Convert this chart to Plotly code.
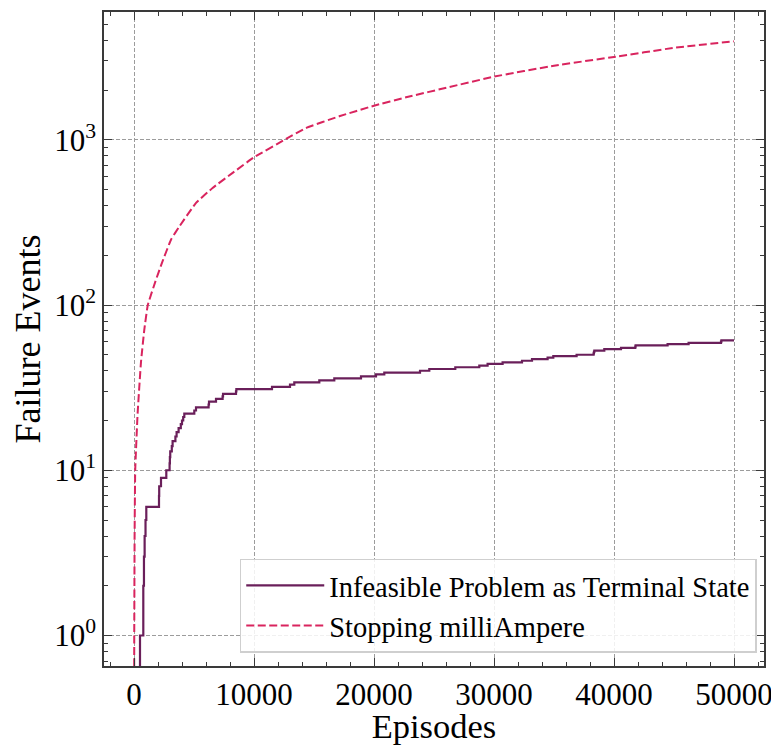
import plotly.graph_objects as go

# ---- data ----
infeasible_episodes = [0, 500, 775, 830, 886, 960, 1025, 2083, 2100, 2250, 2692, 2967, 2990,
                       3020, 3150, 3217, 3450, 3550, 3717, 3900, 4000, 4100, 4192, 5025, 5167,
                       6217, 6250, 6833, 7383, 7420, 8500, 8530, 11500, 13000, 13358, 15442,
                       16692, 18917, 20167, 20858, 23833, 24608, 26775, 28775, 29467, 30717,
                       32333, 33167, 34467, 34942, 36883, 38300, 38330, 38360, 39192, 40583,
                       41775, 41800, 44467, 46217, 48917, 48950, 50000]
infeasible_failures = [0, 1, 2, 3, 4, 5, 6, 7, 8, 9, 10, 11, 12,
                       13, 14, 15, 16, 17, 18, 19, 20, 21, 22, 23, 24,
                       25, 26, 27, 28, 29, 30, 31, 32, 33, 34, 35,
                       36, 37, 38, 39, 40, 41, 42, 43, 44, 45,
                       46, 47, 48, 49, 50, 51, 52, 53, 54, 55,
                       56, 57, 58, 59, 60, 61, 61]

stopping_episodes = [0, 20, 50, 100, 300, 580, 860, 1150, 1800, 2330, 3100, 3800, 5170, 6550,
                     8220, 10000, 12670, 14330, 17100, 20000, 22670, 26300, 30000, 35000,
                     40000, 45000, 50000]
stopping_failures = [0, 1, 4, 10, 22, 45, 71, 100, 140, 180, 250, 300, 415, 511,
                     630, 783, 1011, 1178, 1386, 1607, 1806, 2086, 2409, 2806,
                     3170, 3600, 3940]

series_names = ["Infeasible Problem as Terminal State", "Stopping milliAmpere"]
x_tick_vals = [0, 10000, 20000, 30000, 40000, 50000]
x_tick_text = ["0", "10000", "20000", "30000", "40000", "50000"]
y_tick_vals = [1, 10, 100, 1000]
y_tick_text = ["10<sup>0</sup>", "10<sup>1</sup>", "10<sup>2</sup>", "10<sup>3</sup>"]

# zero counts are clipped below the visible log range (like matplotlib's log clipping)
LOG_FLOOR = 0.05
def clip(vals):
    return [v if v > 0 else LOG_FLOOR for v in vals]

FONT = "Liberation Serif"
PURPLE = "#6a1f5a"
RED = "#d9245e"

fig = go.Figure()
fig.add_trace(go.Scatter(
    x=infeasible_episodes, y=clip(infeasible_failures), mode="lines",
    line=dict(color=PURPLE, width=2.2, shape="hv"), name=series_names[0]))
fig.add_trace(go.Scatter(
    x=stopping_episodes, y=clip(stopping_failures), mode="lines",
    line=dict(color=RED, width=2, dash="8px,3.5px", shape="spline", smoothing=0.3),
    name=series_names[1]))

axis_common = dict(
    showline=True, linecolor="#3a3a3a", linewidth=1.5, mirror="allticks",
    ticks="inside", ticklen=8, tickwidth=1.2, tickcolor="#3a3a3a",
    showgrid=True, gridcolor="#9c9c9c", gridwidth=1, griddash="4px,2px",
    zeroline=False, automargin=False,
    tickfont=dict(family=FONT, size=31, color="black"),
)

minor_y = [k * 10 ** e for e in range(-1, 4) for k in range(2, 10)]

fig.update_xaxes(
    **axis_common, range=[-2500, 52500], tickmode="array",
    tickvals=x_tick_vals, ticktext=x_tick_text, ticklabelstandoff=0,
    minor=dict(ticks="inside", ticklen=4.5, tickwidth=1, tickcolor="#3a3a3a",
               dtick=2000, tick0=0, showgrid=False),
    title=dict(text="Episodes", font=dict(family=FONT, size=34.5, color="black"), standoff=6),
)
fig.update_yaxes(
    **axis_common, type="log", range=[-0.1845, 3.773], tickmode="array",
    tickvals=y_tick_vals, ticktext=y_tick_text, ticklabelstandoff=0,
    minor=dict(ticks="inside", ticklen=4.5, tickwidth=1, tickcolor="#3a3a3a",
               tickmode="array", tickvals=minor_y, showgrid=False),
    title=dict(text="Failure Events", font=dict(family=FONT, size=36, color="black"), standoff=5),
)

# the page body adds an 8px offset at the top-left, so the figure is 8px smaller
fig.update_layout(
    width=771, height=737,
    margin=dict(l=96, r=15, t=4, b=79, autoexpand=False),
    plot_bgcolor="white", paper_bgcolor="white",
    font=dict(family=FONT, color="black"),
    legend=dict(x=0.989, y=0.02, xanchor="right", yanchor="bottom",
                bgcolor="rgba(255,255,255,0.85)", bordercolor="#cfcfcf", borderwidth=1.5,
                font=dict(family=FONT, size=28.5, color="black"),
                tracegroupgap=0, itemwidth=78),
    showlegend=True,
)

fig.write_html("out.html")
